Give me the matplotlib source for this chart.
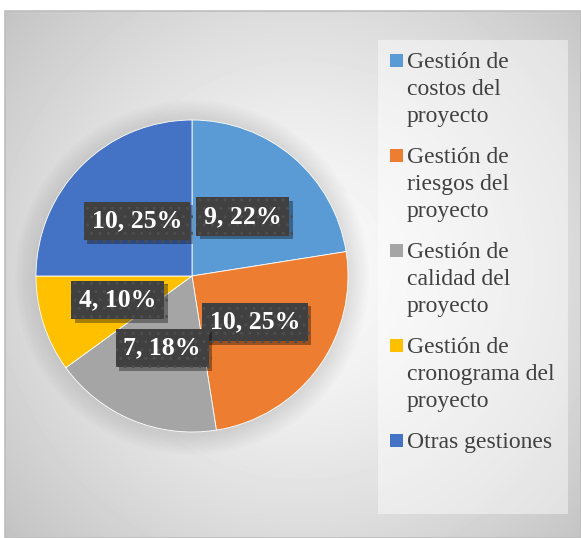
import numpy as np
import matplotlib
matplotlib.use("Agg")
import matplotlib.pyplot as plt
from matplotlib.patches import Rectangle, Circle
import matplotlib.patheffects as pe

# ---- data ----
categories = [
    "Gestión de\ncostos del\nproyecto",
    "Gestión de\nriesgos del\nproyecto",
    "Gestión de\ncalidad del\nproyecto",
    "Gestión de\ncronograma del\nproyecto",
    "Otras gestiones",
]
values = [9, 10, 7, 4, 10]
colors = ["#5B9BD5", "#ED7D31", "#A5A5A5", "#FFC000", "#4472C4"]

W, H = 581, 538
SERIF = ["Liberation Serif", "DejaVu Serif"]

fig = plt.figure(figsize=(W / 100, H / 100), dpi=100)
fig.patch.set_facecolor("white")

# ---- background panel in pixel coordinates (y downward) ----
bg = fig.add_axes([0, 0, 1, 1])
bg.set_xlim(0, W)
bg.set_ylim(H, 0)
bg.axis("off")

x0, y0 = 5, 11
yy, xx = np.mgrid[y0:H, x0:W]
d = np.sqrt(((xx - 300) / 400.0) ** 2 + ((yy - 270) / 400.0) ** 2)
d = np.clip(d, 0, 1)
level = 0.985 - (0.985 - 0.76) * d ** 1.4
bg.imshow(level, cmap="gray", vmin=0, vmax=1, extent=(x0, W, H, y0),
          interpolation="bilinear", zorder=0, aspect="auto")
bg.add_patch(Rectangle((x0, y0), W - x0, H - y0, fill=False,
                       edgecolor="#bdbdbd", linewidth=1.2, zorder=1))

# ---- legend ----
bg.add_patch(Rectangle((378, 40), 190, 474, facecolor="white", alpha=0.45,
                       edgecolor="none", zorder=2))
line_h = 27
baseline = 68
for cat, col in zip(categories, colors):
    lines = cat.split("\n")
    bg.add_patch(Rectangle((390, baseline - 14), 12.5, 12.5, facecolor=col,
                           edgecolor="none", zorder=3))
    for k, ln in enumerate(lines):
        bg.text(407, baseline + k * line_h, ln, fontsize=17, family=SERIF,
                color="#404040", va="baseline", ha="left", zorder=3)
    baseline += len(lines) * line_h + 14

# ---- pie ----
cx, cy, r, half = 192, 276, 156, 185
ax = fig.add_axes([(cx - half) / W, 1 - (cy + half) / H, 2 * half / W, 2 * half / H])

total = sum(values)
label_texts = iter(f"{v}, {round(v * 100 / total)}%" for v in values)

wedges, _, autotexts = ax.pie(
    values, colors=colors, startangle=90, counterclock=False,
    autopct=lambda p: next(label_texts), pctdistance=0.5,
    wedgeprops=dict(edgecolor="white", linewidth=0.6),
    textprops=dict(fontsize=18.5, fontweight="bold", color="white", family=SERIF),
)
ax.set_xlim(-half / r, half / r)
ax.set_ylim(-half / r, half / r)
ax.set_aspect("equal")
ax.axis("off")

# soft glow behind the pie
for k in range(9):
    ax.add_patch(Circle((0, -0.01), 1.0 + 0.015 * (k + 1), facecolor="#7a7a7a",
                        alpha=0.022, edgecolor="none", zorder=0))

for w in wedges:
    w.set_zorder(2)
for t in autotexts:
    t.set_zorder(5)
    t.set_bbox(dict(boxstyle="square,pad=0.3", facecolor="#404040",
                    edgecolor="#4e4e4e", hatch="..", linewidth=0))
    t.get_bbox_patch().set_path_effects([
        pe.SimplePatchShadow(offset=(2.5, -2.5), shadow_rgbFace="black", alpha=0.35),
        pe.Normal(),
    ])

fig.savefig("out.png", dpi=100)
